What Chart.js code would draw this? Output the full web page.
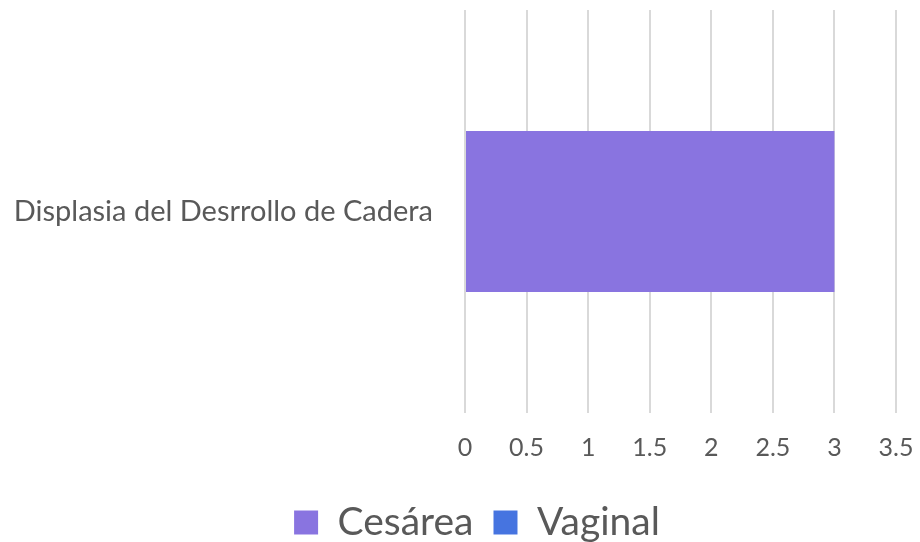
<!DOCTYPE html>
<html>
<head>
<meta charset="utf-8">
<script src="https://cdn.jsdelivr.net/npm/chart.js@4"></script>
<style>
  html, body { margin: 0; padding: 0; background: #fff; }
  #wrap { width: 920px; height: 542px; }
</style>
</head>
<body>
<div id="wrap"><canvas id="chart"></canvas></div>
<script>
var categories = ["Displasia del Desrrollo de Cadera"];
var cesareaValues = [3];
var vaginalValues = [0];
var seriesNames = ["Cesárea", "Vaginal"];

var fontName = "Lato, 'Open Sans', sans-serif";
var textColor = "#595959";

// the original legend sits a little right of centre
var legendShift = {
    id: 'legendShift',
    afterLayout: function (chart) {
        if (chart.legend) chart.legend.left += 58;
    }
};

new Chart(document.getElementById("chart"), {
    type: 'bar',
    data: {
        labels: categories,
        datasets: [
            {
                label: seriesNames[0],
                data: cesareaValues,
                backgroundColor: 'rgb(137, 116, 224)',
                borderWidth: 0
            },
            {
                label: seriesNames[1],
                data: vaginalValues,
                backgroundColor: 'rgb(70, 116, 224)',
                borderWidth: 0
            }
        ]
    },
    plugins: [legendShift],
    options: {
        indexAxis: 'y',
        responsive: true,
        maintainAspectRatio: false,
        animation: false,
        barPercentage: 0.4,
        categoryPercentage: 1,
        layout: {
            // negative bottom pushes the legend lower, like the original
            padding: { top: 10, right: 24, left: 0, bottom: -10 }
        },
        plugins: {
            legend: {
                position: 'bottom',
                labels: {
                    font: { family: fontName, size: 39 },
                    color: textColor,
                    boxWidth: 24,
                    boxHeight: 24,
                    padding: 20
                }
            },
            tooltip: { enabled: false }
        },
        scales: {
            x: {
                stacked: true,
                min: 0,
                max: 3.5,
                afterFit: function (scale) {
                    scale.paddingLeft = 0;
                    scale.paddingRight = 0;
                },
                ticks: {
                    stepSize: 0.5,
                    padding: 20,
                    color: textColor,
                    font: { family: fontName, size: 25 },
                    maxRotation: 0,
                    callback: function (v) { return String(v); }
                },
                grid: {
                    color: '#d9d9d9',
                    lineWidth: 2,
                    drawTicks: false
                },
                border: { display: false }
            },
            y: {
                stacked: true,
                afterFit: function (scale) {
                    scale.width = 465;
                    scale.paddingTop = 0;
                    scale.paddingBottom = 0;
                },
                ticks: {
                    padding: 32,
                    color: textColor,
                    font: { family: fontName, size: 29 }
                },
                grid: { display: false, drawTicks: false },
                border: { display: false }
            }
        }
    }
});
</script>
</body>
</html>
